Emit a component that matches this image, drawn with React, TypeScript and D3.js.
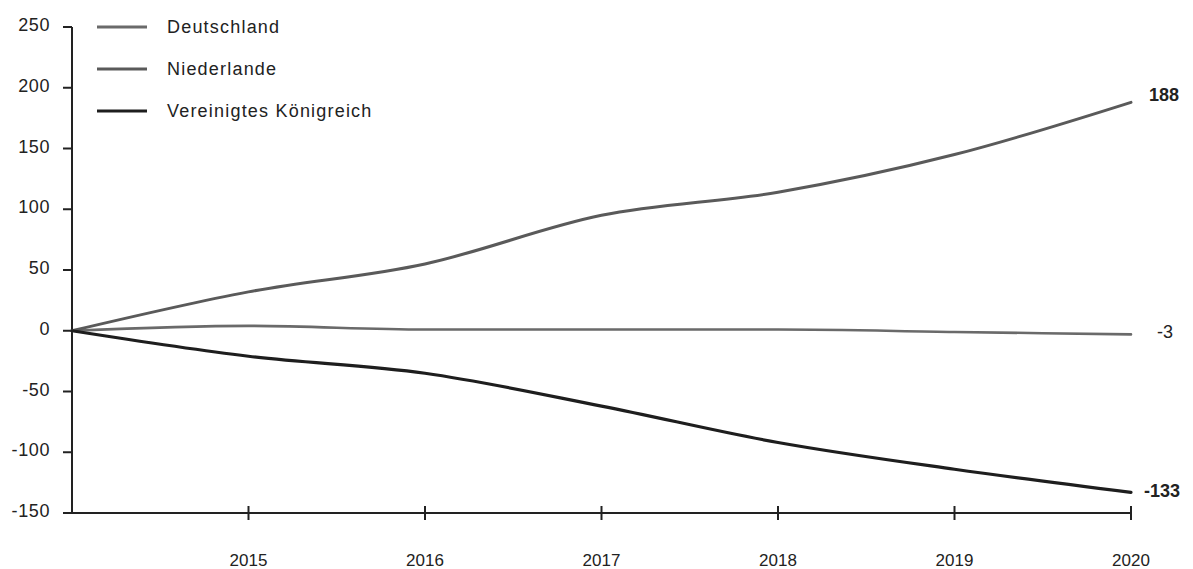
import React from "react";
import * as d3 from "d3";

const years = [2014, 2015, 2016, 2017, 2018, 2019, 2020];
const tickYears = [2015, 2016, 2017, 2018, 2019, 2020];
const yTicks = [250, 200, 150, 100, 50, 0, -50, -100, -150];
const deutschland = [0, 4, 1, 1, 1, -1, -3];
const niederlande = [0, 32, 55, 95, 114, 145, 188];
const vk = [0, -21, -35, -62, -92, -114, -133];
const endLabels = ["-3", "188", "-133"];
const seriesNames = ["Deutschland", "Niederlande", "Vereinigtes Königreich"];

const W = 1193;
const H = 569;

export default function App() {
  const x = d3.scaleLinear().domain([2014, 2020]).range([72, 1131]);
  const y = d3.scaleLinear().domain([-150, 250]).range([513, 27]);
  const series = [
    { name: seriesNames[0], values: deutschland, color: "#6a6a6a", width: 2.6, label: endLabels[0], bold: false, dx: 26, dy: 4 },
    { name: seriesNames[1], values: niederlande, color: "#5a5a5a", width: 3, label: endLabels[1], bold: true, dx: 18, dy: -1 },
    { name: seriesNames[2], values: vk, color: "#1e1e1e", width: 3.2, label: endLabels[2], bold: true, dx: 13, dy: 5 },
  ];
  const line = d3
    .line<number>()
    .x((_, i) => x(years[i]))
    .y((d) => y(d))
    .curve(d3.curveMonotoneX);
  const font = "'Liberation Sans', Arial, sans-serif";
  return (
    <svg width={W} height={H} style={{ position: "absolute", left: 0, top: 0, background: "#fff" }} fontFamily={font}>
      <rect width={W} height={H} fill="#fff" />
      {/* y axis */}
      <line x1={x(2014)} x2={x(2014)} y1={y(250)} y2={y(-150)} stroke="#222" strokeWidth={2} />
      {yTicks.map((t) => (
        <g key={t}>
          <line x1={x(2014) - 9} x2={x(2014)} y1={y(t)} y2={y(t)} stroke="#222" strokeWidth={2} />
          <text x={50} y={y(t) + 4} textAnchor="end" fontSize={18} letterSpacing={0.6} fill="#222">
            {t}
          </text>
        </g>
      ))}
      {/* x axis */}
      <line x1={x(2014) - 9} x2={x(2020)} y1={y(-150)} y2={y(-150)} stroke="#222" strokeWidth={2} />
      {tickYears.map((yr) => (
        <g key={yr}>
          <line x1={x(yr)} x2={x(yr)} y1={y(-150) - 7} y2={y(-150) + 7} stroke="#222" strokeWidth={2} />
          <text x={x(yr)} y={566} textAnchor="middle" fontSize={17} fill="#222">
            {yr}
          </text>
        </g>
      ))}
      {/* lines */}
      {series.map((s) => (
        <path key={s.name} d={line(s.values) || ""} fill="none" stroke={s.color} strokeWidth={s.width} strokeLinecap="round" />
      ))}
      {/* end labels */}
      {series.map((s) => (
        <text
          key={s.name + "l"}
          x={x(2020) + s.dx}
          y={y(s.values[s.values.length - 1]) + s.dy}
          fontSize={18}
          fontWeight={s.bold ? "bold" : "normal"}
          fill="#222"
        >
          {s.label}
        </text>
      ))}
      {/* legend */}
      {series.map((s, i) => (
        <g key={s.name + "g"}>
          <line x1={97} x2={147} y1={27 + i * 42} y2={27 + i * 42} stroke={s.color} strokeWidth={3} />
          <text x={167} y={27 + i * 42 + 6} fontSize={18} letterSpacing={1.2} fill="#222">
            {s.name}
          </text>
        </g>
      ))}
    </svg>
  );
}
